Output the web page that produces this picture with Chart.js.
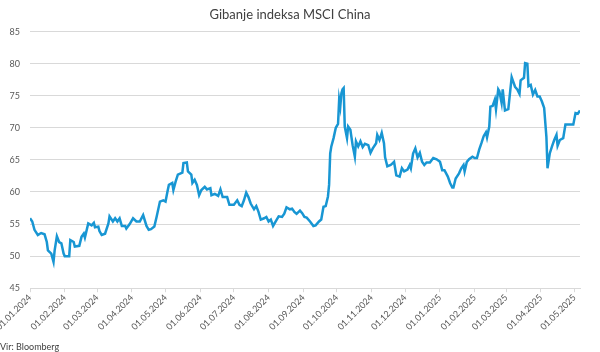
<!DOCTYPE html>
<html>
<head>
<meta charset="utf-8">
<title>Gibanje indeksa MSCI China</title>
<script src="https://cdn.jsdelivr.net/npm/chart.js@4.4.1/dist/chart.umd.min.js"></script>
<style>
  html, body { margin: 0; padding: 0; background: #fff; }
  #wrap { width: 600px; height: 352px; position: relative; }
</style>
</head>
<body>
<div id="wrap"><canvas id="msci-chart"></canvas></div>
<script>
// MSCI China index
const dates = [
  "2024-01-01", "2024-01-03", "2024-01-05", "2024-01-08", "2024-01-11", "2024-01-14", "2024-01-16", "2024-01-17",
  "2024-01-20", "2024-01-22", "2024-01-23", "2024-01-25", "2024-01-27", "2024-01-29", "2024-01-31", "2024-02-01",
  "2024-02-05", "2024-02-06", "2024-02-09", "2024-02-10", "2024-02-14", "2024-02-16", "2024-02-18", "2024-02-19",
  "2024-02-22", "2024-02-25", "2024-02-27", "2024-02-28", "2024-03-02", "2024-03-03", "2024-03-05", "2024-03-08",
  "2024-03-11", "2024-03-12", "2024-03-15", "2024-03-17", "2024-03-19", "2024-03-21", "2024-03-23", "2024-03-26",
  "2024-03-27", "2024-03-30", "2024-04-02", "2024-04-05", "2024-04-08", "2024-04-11", "2024-04-14", "2024-04-16",
  "2024-04-18", "2024-04-21", "2024-04-23", "2024-04-26", "2024-04-29", "2024-05-01", "2024-05-03", "2024-05-04",
  "2024-05-07", "2024-05-08", "2024-05-10", "2024-05-12", "2024-05-16", "2024-05-17", "2024-05-20", "2024-05-21",
  "2024-05-24", "2024-05-25", "2024-05-27", "2024-05-29", "2024-05-31", "2024-06-02", "2024-06-05", "2024-06-07",
  "2024-06-10", "2024-06-11", "2024-06-14", "2024-06-17", "2024-06-19", "2024-06-21", "2024-06-25", "2024-06-27",
  "2024-07-01", "2024-07-04", "2024-07-06", "2024-07-08", "2024-07-10", "2024-07-12", "2024-07-14", "2024-07-16",
  "2024-07-19", "2024-07-21", "2024-07-23", "2024-07-25", "2024-07-28", "2024-07-30", "2024-08-01", "2024-08-03",
  "2024-08-05", "2024-08-08", "2024-08-10", "2024-08-13", "2024-08-15", "2024-08-17", "2024-08-20", "2024-08-22",
  "2024-08-24", "2024-08-26", "2024-08-29", "2024-08-31", "2024-09-02", "2024-09-04", "2024-09-07", "2024-09-10",
  "2024-09-12", "2024-09-15", "2024-09-17", "2024-09-19", "2024-09-21", "2024-09-23", "2024-09-24", "2024-09-25",
  "2024-09-26", "2024-09-28", "2024-09-30", "2024-10-02", "2024-10-03", "2024-10-04", "2024-10-05", "2024-10-06",
  "2024-10-07", "2024-10-08", "2024-10-10", "2024-10-11", "2024-10-13", "2024-10-15", "2024-10-17", "2024-10-18",
  "2024-10-20", "2024-10-22", "2024-10-24", "2024-10-26", "2024-10-29", "2024-10-31", "2024-11-02", "2024-11-05",
  "2024-11-06", "2024-11-08", "2024-11-10", "2024-11-12", "2024-11-13", "2024-11-15", "2024-11-18", "2024-11-21",
  "2024-11-23", "2024-11-26", "2024-11-28", "2024-11-30", "2024-12-03", "2024-12-05", "2024-12-06", "2024-12-08",
  "2024-12-10", "2024-12-12", "2024-12-14", "2024-12-16", "2024-12-18", "2024-12-20", "2024-12-23", "2024-12-26",
  "2024-12-29", "2025-01-01", "2025-01-03", "2025-01-05", "2025-01-08", "2025-01-10", "2025-01-12", "2025-01-13",
  "2025-01-15", "2025-01-18", "2025-01-20", "2025-01-22", "2025-01-23", "2025-01-25", "2025-01-27", "2025-01-30",
  "2025-02-01", "2025-02-03", "2025-02-05", "2025-02-07", "2025-02-09", "2025-02-11", "2025-02-12", "2025-02-14",
  "2025-02-15", "2025-02-17", "2025-02-19", "2025-02-20", "2025-02-22", "2025-02-23", "2025-02-25", "2025-02-26",
  "2025-02-28", "2025-03-03", "2025-03-06", "2025-03-07", "2025-03-09", "2025-03-11", "2025-03-13", "2025-03-14",
  "2025-03-17", "2025-03-18", "2025-03-20", "2025-03-21", "2025-03-23", "2025-03-25", "2025-03-27", "2025-03-29",
  "2025-03-31", "2025-04-02", "2025-04-03", "2025-04-04", "2025-04-06", "2025-04-07", "2025-04-09", "2025-04-11",
  "2025-04-13", "2025-04-15", "2025-04-16", "2025-04-18", "2025-04-21", "2025-04-23", "2025-04-26", "2025-04-30",
  "2025-05-02", "2025-05-04", "2025-05-06"
];

const values = [
  55.9, 55.4, 54.1, 53.3, 53.6, 53.4, 52.2, 50.9,
  50.4, 49.1, 50.9, 53.1, 52.2, 52.0, 50.4, 50.0,
  50.0, 52.5, 52.2, 51.5, 51.6, 53.0, 53.5, 52.9,
  55.1, 54.8, 55.2, 54.5, 54.6, 53.9, 53.3, 53.5,
  55.1, 56.2, 55.4, 55.9, 55.4, 55.9, 54.7, 54.7,
  54.3, 55.0, 55.9, 55.4, 55.4, 56.4, 54.7, 54.1,
  54.2, 54.6, 56.1, 58.5, 58.7, 58.5, 60.3, 61.1,
  61.4, 60.3, 61.6, 62.7, 63.0, 64.5, 64.6, 63.2,
  62.7, 61.4, 61.9, 61.1, 59.5, 60.3, 60.8, 60.4,
  60.6, 59.5, 59.7, 59.4, 60.4, 59.2, 59.2, 58.0,
  58.0, 58.7, 58.0, 57.8, 58.7, 59.9, 59.2, 58.2,
  57.3, 57.8, 56.9, 55.7, 55.9, 56.1, 55.4, 55.7,
  54.7, 55.6, 56.2, 56.1, 56.6, 57.6, 57.3, 57.4,
  56.9, 56.6, 57.1, 56.7, 56.1, 56.0, 55.4, 54.7,
  54.8, 55.4, 55.7, 57.7, 57.8, 59.3, 61.1, 66.0,
  67.1, 68.4, 70.0, 70.6, 74.4, 73.3, 75.4, 76.0,
  76.2, 70.2, 68.4, 70.2, 69.7, 67.3, 65.5, 67.9,
  67.1, 67.9, 67.0, 67.5, 67.3, 66.1, 66.8, 67.6,
  68.9, 68.1, 69.2, 67.6, 65.4, 64.0, 64.2, 64.7,
  62.6, 62.4, 63.7, 63.2, 63.5, 64.2, 63.7, 66.0,
  66.8, 65.4, 66.1, 64.7, 64.2, 64.6, 64.6, 65.3,
  65.1, 64.7, 63.4, 63.4, 62.4, 61.4, 60.7, 60.7,
  62.1, 62.9, 63.7, 64.2, 63.2, 64.7, 65.1, 65.5,
  65.3, 65.3, 66.6, 67.6, 68.7, 69.3, 68.5, 70.2,
  73.3, 73.4, 74.4, 72.9, 76.0, 75.7, 73.9, 76.0,
  72.7, 72.9, 77.9, 77.4, 76.4, 76.0, 75.3, 77.4,
  77.8, 80.1, 80.0, 76.5, 76.7, 75.2, 75.9, 74.9,
  74.9, 74.1, 73.6, 73.1, 68.6, 63.7, 66.0, 67.1,
  68.1, 68.9, 67.2, 68.1, 68.4, 70.5, 70.5, 70.5,
  72.3, 72.2, 72.7
];

// Month-start labels on the date axis
const tickLabels = [
  "01.01.2024", "01.02.2024", "01.03.2024", "01.04.2024", "01.05.2024", "01.06.2024",
  "01.07.2024", "01.08.2024", "01.09.2024", "01.10.2024", "01.11.2024", "01.12.2024",
  "01.01.2025", "01.02.2025", "01.03.2025", "01.04.2025", "01.05.2025"
];

const axisStart = "2024-01-01";
const axisEnd = "2025-05-06";
const yTicks = { min: 45, max: 85, step: 5 };

const fontFamily = "Lato, 'Open Sans', sans-serif";

// days since axisStart
function dayNumber(y, m, d) {
  const [y0, m0, d0] = axisStart.split("-").map(Number);
  return Math.round((Date.UTC(y, m - 1, d) - Date.UTC(y0, m0 - 1, d0)) / 86400000);
}
function isoToDay(s) {
  const [y, m, d] = s.split("-").map(Number);
  return dayNumber(y, m, d);
}
function labelToDay(s) {
  const [d, m, y] = s.split(".").map(Number);
  return dayNumber(y, m, d);
}

const tickDays = tickLabels.map(labelToDay);
const points = dates.map(function (d, i) {
  return { x: isoToDay(d), y: values[i] };
});

document.addEventListener("DOMContentLoaded", function () {
  const ctx = document.getElementById("msci-chart").getContext("2d");

  new Chart(ctx, {
    type: "line",
    data: {
      datasets: [
        {
          label: "MSCI China",
          data: points,
          borderColor: "#1896d3",
          borderWidth: 2.5,
          pointRadius: 0,
          tension: 0,
          fill: false,
        },
      ],
    },
    options: {
      responsive: true,
      maintainAspectRatio: false,
      animation: false,
      layout: { padding: { left: 0, right: 20, top: 0, bottom: 0 } },
      plugins: {
        legend: { display: false },
        tooltip: { enabled: false },
        title: {
          display: true,
          text: "Gibanje indeksa MSCI China",
          color: "#404040",
          font: { family: fontFamily, size: 13, weight: "normal" },
          padding: { top: 7, bottom: 9 },
        },
        subtitle: {
          display: true,
          position: "bottom",
          align: "start",
          text: "Vir: Bloomberg",
          color: "#404040",
          font: { family: fontFamily, size: 9, weight: "normal" },
          padding: 0,
        },
      },
      scales: {
        x: {
          type: "linear",
          min: 0,
          max: isoToDay(axisEnd),
          afterBuildTicks: function (scale) {
            scale.ticks = tickDays.map(function (v) {
              return { value: v };
            });
          },
          afterFit: function (scale) {
            scale.paddingLeft = 0;
            scale.paddingRight = 0;
            scale.height = 53;
          },
          grid: {
            drawOnChartArea: false,
            drawTicks: true,
            tickLength: 4,
            color: "#d9d9d9",
          },
          border: { color: "#d9d9d9" },
          ticks: {
            autoSkip: false,
            maxRotation: 45,
            minRotation: 45,
            padding: 0,
            color: "#595959",
            font: { family: fontFamily, size: 9 },
            callback: function (value) {
              const i = tickDays.indexOf(value);
              return i >= 0 ? tickLabels[i] : "";
            },
          },
        },
        y: {
          min: yTicks.min,
          max: yTicks.max,
          afterFit: function (scale) {
            scale.width = 30;
          },
          grid: { color: "#d9d9d9", drawTicks: false },
          border: { display: false },
          ticks: {
            stepSize: yTicks.step,
            padding: 10,
            color: "#595959",
            font: { family: fontFamily, size: 9 },
          },
        },
      },
    },
  });
});
</script>
</body>
</html>
